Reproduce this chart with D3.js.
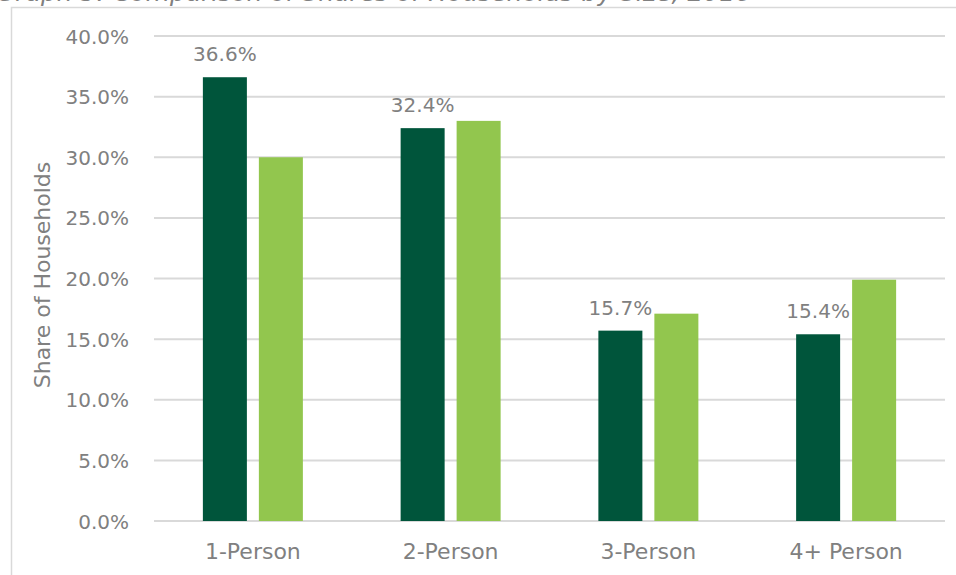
<!DOCTYPE html>
<html>
<head>
<meta charset="utf-8">
<script src="https://cdn.jsdelivr.net/npm/d3@7"></script>
<style>
  body { margin: 0; background: #fff; }
  text { font-family: "DejaVu Sans", sans-serif; }
</style>
</head>
<body>
<svg id="chart" width="956" height="575"></svg>
<script>
// household size categories and shares (%)
var categories = ["1-Person", "2-Person", "3-Person", "4+ Person"];
var seriesNames = ["Area", "Comparison"];
var areaShare = [36.6, 32.4, 15.7, 15.4];
var comparisonShare = [30.0, 33.0, 17.1, 19.9];
var yTicks = [0, 5, 10, 15, 20, 25, 30, 35, 40];

var textColor = "#808080";
var colors = ["#00553b", "#92c64e"];

var svg = d3.select("#chart");

// title, cut off at very top
svg.append("text").attr("x", -4).attr("y", 1)
  .style("font-style", "italic").style("font-size", "25px").style("fill", textColor)
  .text("Graph 3: Comparison of Shares of Households by Size, 2016");

// chart frame
svg.append("rect").attr("x", 11.5).attr("y", 7.5).attr("width", 960).attr("height", 580)
  .style("fill", "none").style("stroke", "#d9d9d9").style("stroke-width", 1.5);

var plot = { left: 154, right: 945, top: 36, bottom: 521 };

var x = d3.scaleBand().domain(categories).range([plot.left, plot.right]);
var inner = d3.scaleBand().domain(seriesNames).range([0, 100]).paddingInner(0.214);
var y = d3.scaleLinear().domain([0, 40]).range([plot.bottom, plot.top]);

// gridlines
svg.append("g").selectAll("line").data(yTicks).enter().append("line")
  .attr("x1", plot.left).attr("x2", plot.right)
  .attr("y1", function(d) { return y(d); }).attr("y2", function(d) { return y(d); })
  .style("stroke", "#d9d9d9").style("stroke-width", 2);

// y axis labels
var yAxis = svg.append("g").attr("transform", "translate(" + (plot.left - 22) + ",0)")
  .call(d3.axisLeft(y).tickValues(yTicks).tickSize(0).tickFormat(function(d) { return d3.format(".1f")(d) + "%"; }));
yAxis.select(".domain").remove();
yAxis.selectAll("text").style("font-family", "DejaVu Sans").style("font-size", "20px").style("fill", textColor).attr("dy", "0.35em");

// x axis labels
var xAxis = svg.append("g").attr("transform", "translate(0," + (plot.bottom + 16) + ")")
  .call(d3.axisBottom(x).tickSize(0));
xAxis.select(".domain").remove();
xAxis.selectAll("text").style("font-family", "DejaVu Sans").style("font-size", "22px").style("fill", textColor).attr("dy", "0.85em");

// y axis title
svg.append("g").attr("transform", "translate(50, 275)")
  .append("text").attr("text-anchor", "middle").attr("transform", "rotate(-90)")
  .style("font-size", "22px").style("fill", textColor).text("Share of Households");

// bars
var groups = svg.append("g").selectAll("g").data(categories).enter().append("g")
  .attr("transform", function(d) { return "translate(" + (x(d) + x.bandwidth() / 2 - 50) + ",0)"; });

var series = [areaShare, comparisonShare];
groups.selectAll("rect").data(function(d, i) {
    return seriesNames.map(function(s, j) { return { s: s, v: series[j][i], j: j }; });
  }).enter().append("rect")
  .attr("x", function(d) { return inner(d.s); })
  .attr("width", inner.bandwidth())
  .attr("y", function(d) { return y(d.v); })
  .attr("height", function(d) { return y(0) - y(d.v); })
  .style("fill", function(d) { return colors[d.j]; });

// data labels on first series only
groups.append("text")
  .attr("x", inner("Area") + inner.bandwidth() / 2)
  .attr("y", function(d, i) { return y(areaShare[i]) - 16; })
  .attr("text-anchor", "middle")
  .style("font-size", "20px").style("fill", textColor)
  .text(function(d, i) { return d3.format(".1f")(areaShare[i]) + "%"; });
</script>
</body>
</html>
